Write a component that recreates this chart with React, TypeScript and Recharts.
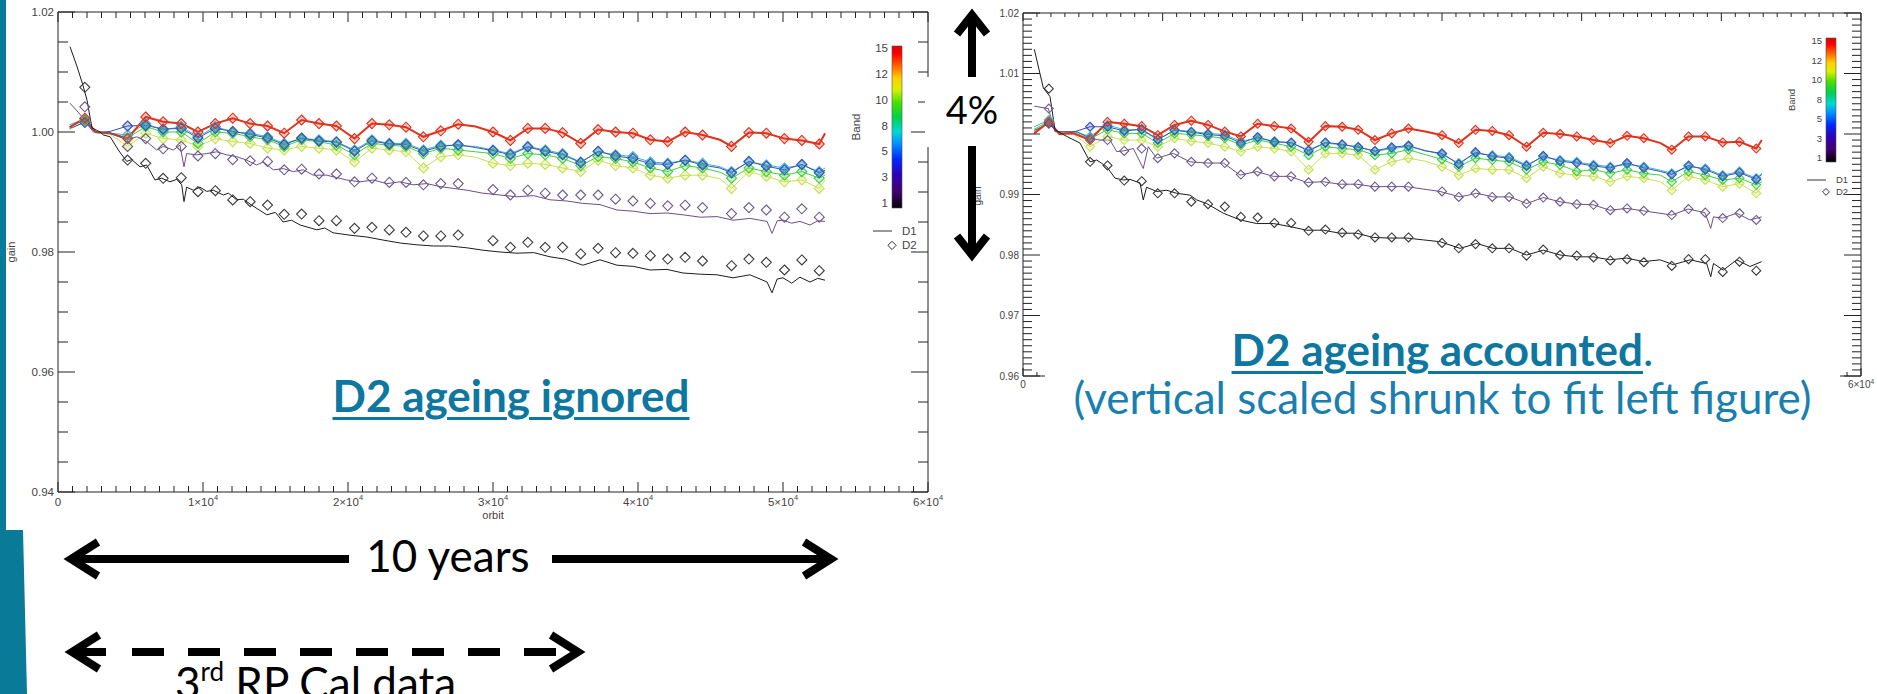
import React from "react";
import { ComposedChart, Line, Scatter, XAxis, YAxis, ReferenceLine } from "recharts";

// orbits where the band curves are sampled (D2 measurement orbits + a few line-only points)
const colorOrbits = [800, 1850, 2600, 3600, 4800, 6050, 7250, 8500, 9650, 10850, 12050, 13250, 14450, 15600, 16800, 18000, 19200, 20450, 21650, 22850, 24000, 25200, 26400, 27600, 28800, 30000, 31200, 32400, 33600, 34800, 36050, 37250, 38450, 39650, 40850, 42050, 43250, 44450, 45650, 46450, 47650, 48850, 50100, 51300, 52500, 52900];
const d2Orbits = [1850, 4800, 6050, 7250, 8500, 9650, 10850, 12050, 13250, 14450, 15600, 16800, 18000, 19200, 20450, 21650, 22850, 24000, 25200, 26400, 27600, 30000, 31200, 32400, 33600, 34800, 36050, 37250, 38450, 39650, 40850, 42050, 43250, 44450, 46450, 47650, 48850, 50100, 51300, 52500];

// ---- left panel: D2 ageing ignored ----
const leftRed = [1.0008, 1.0023, 1.0, 0.9998, 0.9989, 1.0025, 1.0017, 1.0014, 1.0, 1.0014, 1.0023, 1.0014, 1.001, 0.9998, 1.002, 1.0014, 1.001, 0.9989, 1.0014, 1.0012, 1.0008, 0.9992, 1.0002, 1.0013, 1.0009, 1.0, 0.9986, 1.0006, 1.0006, 0.9999, 0.9981, 1.0004, 1.0, 0.9998, 0.9987, 0.9984, 1.0, 0.9995, 0.9987, 0.9976, 0.9999, 0.9998, 0.9989, 0.9986, 0.998, 0.9998];
const leftBlue = [1.0006, 1.0016, 0.9999, 1.0001, 1.001, 1.0011, 1.0005, 1.0006, 0.999, 1.0006, 1.0001, 0.9996, 0.999, 0.9979, 0.999, 0.9985, 0.9983, 0.9968, 0.9985, 0.998, 0.9979, 0.9968, 0.9976, 0.9979, 0.9974, 0.9969, 0.9962, 0.9975, 0.9968, 0.9962, 0.9949, 0.9968, 0.996, 0.9956, 0.9947, 0.9946, 0.9953, 0.9945, 0.994, 0.9932, 0.9951, 0.9943, 0.9937, 0.9946, 0.9932, 0.9936];
const leftCyan = [1.0012, 1.0022, 1.0, 0.9998, 0.9995, 1.0014, 1.0003, 1.0009, 0.9992, 1.0009, 1.0, 0.9998, 0.9992, 0.9981, 0.9989, 0.9987, 0.9984, 0.997, 0.9987, 0.9981, 0.9981, 0.997, 0.9978, 0.9977, 0.9976, 0.997, 0.9964, 0.9976, 0.997, 0.9964, 0.995, 0.9967, 0.9962, 0.9959, 0.995, 0.9948, 0.9953, 0.9948, 0.9942, 0.9934, 0.995, 0.9945, 0.994, 0.9945, 0.9934, 0.994];
const leftGreen = [1.0008, 1.002, 1.0, 0.9998, 0.999, 1.0009, 1.0, 1.0, 0.9981, 1.0, 0.9998, 0.9992, 0.9987, 0.9976, 0.9987, 0.9984, 0.9978, 0.9962, 0.9981, 0.9978, 0.9976, 0.9964, 0.9973, 0.997, 0.9967, 0.9964, 0.9956, 0.9964, 0.9962, 0.9956, 0.9944, 0.9959, 0.9956, 0.995, 0.994, 0.9934, 0.9944, 0.994, 0.9933, 0.9923, 0.994, 0.9934, 0.9928, 0.9934, 0.9923, 0.9928];
const leftYellow = [1.0004, 1.0018, 0.9998, 0.9996, 0.9976, 0.9998, 0.9989, 0.9987, 0.9976, 0.9989, 0.9984, 0.9981, 0.9973, 0.997, 0.9976, 0.9973, 0.997, 0.995, 0.9973, 0.997, 0.9967, 0.994, 0.9959, 0.9962, 0.9958, 0.9948, 0.9944, 0.9948, 0.9946, 0.994, 0.9934, 0.9953, 0.9944, 0.994, 0.9928, 0.9923, 0.9928, 0.9928, 0.9922, 0.9906, 0.9934, 0.9926, 0.9917, 0.992, 0.9906, 0.992];

const leftBlackOrbits = [830, 1300, 1720, 2000, 2340, 2900, 3130, 3600, 4160, 4740, 5080, 5660, 6115, 6690, 7150, 7720, 8190, 8530, 8690, 8870, 9330, 9790, 10250, 10710, 11400, 11750, 12320, 12780, 13360, 14400, 15000, 15520, 16100, 16700, 17850, 18400, 18970, 20140, 21300, 22400, 23600, 24750, 25900, 27000, 28200, 29300, 30480, 31650, 32800, 33930, 35000, 36200, 37380, 38550, 39700, 40830, 42000, 43100, 44300, 45450, 46550, 47720, 48900, 49240, 49600, 50000, 50600, 51170, 51860, 52400, 52900];
const leftBlackD1 = [1.0142, 1.011, 1.0078, 1.0053, 1.0007, 1.0, 0.9995, 0.9992, 0.997, 0.9951, 0.9954, 0.9942, 0.9945, 0.992, 0.9923, 0.9917, 0.9921, 0.9912, 0.9884, 0.9908, 0.9903, 0.9908, 0.9901, 0.9903, 0.9895, 0.9898, 0.9887, 0.9888, 0.9878, 0.9862, 0.9866, 0.985, 0.9853, 0.9845, 0.9837, 0.984, 0.9832, 0.9828, 0.9825, 0.982, 0.9815, 0.9812, 0.981, 0.981, 0.9807, 0.9803, 0.98, 0.9798, 0.9799, 0.9792, 0.9788, 0.9778, 0.9787, 0.9778, 0.9776, 0.977, 0.9771, 0.9765, 0.9763, 0.9762, 0.9757, 0.9762, 0.975, 0.9732, 0.9755, 0.9757, 0.9748, 0.9758, 0.975, 0.9756, 0.9753];
const leftBlackD2 = [1.00745, 0.99533, 0.99478, 0.99228, 0.99239, 0.99006, 0.99022, 0.98867, 0.98839, 0.98783, 0.98628, 0.98633, 0.98522, 0.98522, 0.98394, 0.98411, 0.98367, 0.98328, 0.98267, 0.98267, 0.98283, 0.98189, 0.98078, 0.98161, 0.98078, 0.98078, 0.97967, 0.98061, 0.97989, 0.97978, 0.97939, 0.97883, 0.97911, 0.9785, 0.97772, 0.97883, 0.97828, 0.977, 0.97867, 0.97689];

const leftPurpleOrbits = [830, 1500, 2440, 3590, 4740, 5430, 6115, 6800, 7270, 7950, 8410, 8690, 8870, 9570, 10250, 10940, 11630, 12320, 13010, 13700, 14160, 14850, 15540, 16230, 16920, 17610, 18530, 19220, 19910, 20830, 21750, 22670, 23590, 24500, 25430, 26340, 27260, 28200, 29300, 30480, 31650, 32800, 33930, 35100, 36200, 37380, 38550, 39700, 40830, 42000, 43100, 44300, 45450, 46550, 47720, 48900, 49240, 49600, 50000, 50600, 51170, 51860, 52400, 52900];
const leftPurpleD1 = [1.0048, 1.003, 1.0, 0.9998, 0.9987, 0.9992, 0.9984, 0.997, 0.9976, 0.997, 0.9978, 0.9942, 0.9964, 0.9962, 0.9964, 0.9967, 0.9962, 0.9959, 0.9953, 0.9945, 0.995, 0.9937, 0.9939, 0.9934, 0.9937, 0.9928, 0.9928, 0.9924, 0.992, 0.9917, 0.992, 0.9914, 0.9917, 0.9912, 0.9914, 0.9909, 0.9906, 0.9903, 0.9898, 0.9895, 0.9892, 0.9894, 0.9887, 0.9885, 0.9881, 0.9879, 0.987, 0.9868, 0.9864, 0.9865, 0.9862, 0.9858, 0.9859, 0.9853, 0.9856, 0.9851, 0.9831, 0.9852, 0.9853, 0.9848, 0.9851, 0.9845, 0.9852, 0.9851];
const leftPurpleD2 = [1.0042, 0.9976, 0.9989, 0.9972, 0.9976, 0.996, 0.9964, 0.9954, 0.9952, 0.9951, 0.9937, 0.9938, 0.993, 0.993, 0.9917, 0.9923, 0.9916, 0.9916, 0.9912, 0.9914, 0.9914, 0.9904, 0.9895, 0.9903, 0.9898, 0.9895, 0.9895, 0.9895, 0.9888, 0.9885, 0.9881, 0.9877, 0.9878, 0.9874, 0.9864, 0.9874, 0.987, 0.9858, 0.9872, 0.9858];

// ---- right panel: D2 ageing accounted ----
const rightRed = [1.0001, 1.002, 1.0001, 1.0001, 0.999, 1.002, 1.0017, 1.0013, 0.9998, 1.0015, 1.0022, 1.0015, 1.0004, 0.9996, 1.0017, 1.0013, 1.0009, 0.9987, 1.0013, 1.0012, 1.0007, 0.999, 1.0001, 1.0009, 1.0004, 0.9998, 0.9985, 1.0007, 1.0005, 0.9998, 0.9979, 1.0002, 1.0, 0.9996, 0.999, 0.9985, 0.9997, 0.9993, 0.9985, 0.9974, 0.9996, 0.9996, 0.9986, 0.9987, 0.9976, 0.999];
const rightBlue = [1.0006, 1.0017, 0.9999, 1.0003, 1.0012, 1.0012, 1.0005, 1.0008, 0.9991, 1.0006, 1.0003, 0.9999, 0.9997, 0.9985, 0.9995, 0.9987, 0.9986, 0.9972, 0.9986, 0.9983, 0.9978, 0.9972, 0.9978, 0.9981, 0.9972, 0.9968, 0.995, 0.997, 0.9963, 0.996, 0.9947, 0.9964, 0.9955, 0.9952, 0.9947, 0.9944, 0.9952, 0.9944, 0.9938, 0.9933, 0.9948, 0.9941, 0.993, 0.9936, 0.9925, 0.9933];
const rightCyan = [1.0012, 1.0023, 1.0001, 1.0004, 0.9996, 1.0015, 1.0007, 1.0007, 0.999, 1.0007, 1.0004, 1.0001, 0.9999, 0.9988, 0.9993, 0.9988, 0.9985, 0.9974, 0.9985, 0.9982, 0.9979, 0.9971, 0.9976, 0.9979, 0.9973, 0.9966, 0.9952, 0.9968, 0.9965, 0.9962, 0.9949, 0.9962, 0.9957, 0.9954, 0.9949, 0.9946, 0.995, 0.9946, 0.994, 0.9935, 0.9946, 0.9943, 0.9932, 0.9938, 0.9927, 0.9935];
const rightGreen = [1.0008, 1.0021, 1.0, 1.0003, 0.9992, 1.0007, 1.0001, 1.0001, 0.9985, 1.0001, 0.9999, 0.9996, 0.9993, 0.9982, 0.999, 0.9985, 0.9979, 0.9965, 0.9979, 0.9976, 0.9974, 0.9965, 0.9968, 0.9974, 0.9966, 0.9958, 0.9946, 0.996, 0.9957, 0.9954, 0.9941, 0.9954, 0.9949, 0.9938, 0.9941, 0.9935, 0.9941, 0.9935, 0.9932, 0.9921, 0.9938, 0.9932, 0.9924, 0.9927, 0.9916, 0.9921];
const rightYellow = [1.0004, 1.0019, 0.9998, 1.0, 0.9979, 0.9996, 0.999, 0.999, 0.9979, 0.9993, 0.9988, 0.9985, 0.9979, 0.9971, 0.9979, 0.9976, 0.9971, 0.9941, 0.9968, 0.9968, 0.9965, 0.9941, 0.9954, 0.996, 0.9955, 0.9946, 0.9932, 0.9943, 0.9941, 0.9941, 0.9927, 0.9946, 0.9935, 0.9932, 0.993, 0.9921, 0.993, 0.9927, 0.9921, 0.9907, 0.993, 0.9924, 0.9913, 0.9918, 0.9902, 0.9913];

const rightBlackOrbits = [810, 1455, 1930, 2290, 3130, 4080, 4800, 5280, 5990, 6590, 7180, 7660, 8380, 8610, 8850, 9570, 10290, 11000, 11960, 12440, 13150, 14350, 15540, 16730, 17920, 19120, 20310, 21500, 22700, 23890, 25080, 26280, 27470, 28660, 29860, 31290, 32480, 33670, 34870, 36060, 37250, 38450, 39640, 40830, 42020, 43220, 44410, 45610, 46560, 47760, 48950, 49240, 49440, 50140, 51100, 52050, 52890];
const rightBlackD1 = [1.014, 1.0076, 1.0062, 1.0007, 0.9996, 0.9985, 0.9954, 0.9957, 0.9946, 0.9927, 0.9924, 0.9925, 0.9919, 0.9891, 0.9912, 0.9905, 0.9907, 0.9902, 0.9899, 0.9891, 0.9885, 0.9869, 0.9858, 0.9852, 0.9852, 0.9847, 0.9841, 0.9841, 0.9836, 0.9836, 0.9829, 0.9828, 0.9828, 0.9825, 0.9822, 0.9811, 0.9819, 0.9811, 0.9811, 0.98, 0.9808, 0.98, 0.9797, 0.9797, 0.9792, 0.9795, 0.9789, 0.9792, 0.9784, 0.9792, 0.9786, 0.9764, 0.9786, 0.9775, 0.9792, 0.9781, 0.9789];
const rightBlackD2 = [1.0075, 0.9954, 0.9948, 0.9923, 0.9922, 0.9902, 0.9902, 0.9888, 0.9884, 0.988, 0.9863, 0.9862, 0.9853, 0.9853, 0.984, 0.9842, 0.9837, 0.9834, 0.9829, 0.9829, 0.9829, 0.982, 0.9811, 0.9818, 0.9811, 0.9811, 0.9799, 0.9809, 0.98, 0.9799, 0.9796, 0.9791, 0.9793, 0.9788, 0.9782, 0.9793, 0.9793, 0.9772, 0.9789, 0.9774];

const rightPurpleOrbits = [810, 1815, 2290, 3840, 4800, 5510, 6230, 6710, 7180, 7900, 8610, 8970, 9570, 10760, 11960, 13150, 14350, 15540, 16730, 17920, 19120, 20310, 21500, 22700, 23890, 25080, 26280, 27470, 28660, 29860, 31290, 32480, 33670, 34870, 36060, 37250, 38450, 39640, 40830, 42020, 43220, 44410, 45610, 46440, 47630, 48830, 49240, 49440, 50090, 51100, 52050, 52890];
const rightPurpleD1 = [1.0046, 1.0042, 1.0004, 1.0004, 0.9993, 0.999, 0.999, 0.9971, 0.9972, 0.9976, 0.9943, 0.9979, 0.996, 0.9968, 0.9954, 0.9952, 0.9952, 0.9932, 0.9938, 0.993, 0.993, 0.992, 0.9921, 0.9917, 0.9917, 0.9913, 0.9913, 0.9913, 0.9909, 0.9905, 0.9896, 0.9902, 0.9896, 0.9896, 0.9885, 0.9895, 0.9888, 0.9884, 0.9883, 0.9874, 0.9877, 0.9873, 0.9869, 0.9866, 0.9876, 0.987, 0.9844, 0.9863, 0.9861, 0.9869, 0.9858, 0.9863];
const rightPurpleD2 = [1.0042, 0.9993, 0.999, 0.9972, 0.9976, 0.996, 0.9968, 0.9954, 0.9952, 0.9952, 0.9933, 0.9938, 0.993, 0.993, 0.992, 0.9921, 0.9917, 0.9917, 0.9913, 0.9913, 0.9913, 0.9905, 0.9896, 0.9902, 0.9896, 0.9896, 0.9885, 0.9895, 0.9888, 0.9884, 0.9883, 0.9874, 0.9877, 0.9873, 0.9866, 0.9876, 0.987, 0.9861, 0.9869, 0.9858];

const bandLabels = ["15", "12", "10", "8", "5", "3", "1"];
const leftXLabels = [0, 10000, 20000, 30000, 40000, 50000, 60000];
const rightXLabels = [0, 60000];

const TEAL = "#0d77a0";
const pts = (xs: number[], ys: number[]) => xs.map((orbit, i) => ({ orbit, v: ys[i] }));
const diamond = (cx: number, cy: number, r: number) =>
  `M${cx},${cy - r}L${cx + r},${cy}L${cx},${cy + r}L${cx - r},${cy}Z`;
const d2Set = new Set(d2Orbits);

type Box = { left: number; top: number; right: number; bottom: number };
type PanelProps = {
  width: number;
  height: number;
  plot: Box;
  yMin: number;
  yMax: number;
  yStep: number;
  yMajor: number;
  yLen: [number, number];
  xLen: [number, number];
  xLabels: number[];
  font: number;
  r: number;
  bands: { color: string; values: number[]; w?: number }[];
  blackLine: { x: number[]; y: number[] };
  purpleLine: { x: number[]; y: number[] };
  blackD2: number[];
  purpleD2: number[];
};

function GainPanel(p: PanelProps) {
  const { plot } = p;
  const nY = Math.round((p.yMax - p.yMin) / p.yStep);
  const yTicks = Array.from({ length: nY + 1 }, (_, i) => +(p.yMin + i * p.yStep).toFixed(4));
  const xTicks = Array.from({ length: 61 }, (_, i) => i * 1000);
  const isMajor = (v: number) => Math.abs(v / p.yMajor - Math.round(v / p.yMajor)) < 1e-6;

  const yTick = (t: any) => {
    const v = t.payload.value;
    const major = isMajor(v);
    const len = major ? p.yLen[0] : p.yLen[1];
    return (
      <g>
        <line x1={plot.left} x2={plot.left + len} y1={t.y} y2={t.y} stroke="#222" />
        <line x1={plot.right} x2={plot.right - len} y1={t.y} y2={t.y} stroke="#222" />
        {major && (
          <text x={plot.left - 4} y={t.y} dy="0.35em" textAnchor="end" fontSize={p.font} fill="#444">
            {v.toFixed(2)}
          </text>
        )}
      </g>
    );
  };

  const xTick = (t: any) => {
    const v = t.payload.value;
    const major = v % 10000 === 0;
    const len = major ? p.xLen[0] : p.xLen[1];
    const n = v / 10000;
    return (
      <g>
        <line x1={t.x} x2={t.x} y1={plot.bottom} y2={plot.bottom - len} stroke="#222" />
        <line x1={t.x} x2={t.x} y1={plot.top} y2={plot.top + len} stroke="#222" />
        {p.xLabels.includes(v) && (
          <text x={t.x} y={plot.bottom + p.font + 2} textAnchor="middle" fontSize={p.font} fill="#444">
            {n === 0 ? (
              "0"
            ) : (
              <>
                <tspan>{`${n}×10`}</tspan>
                <tspan dy={-p.font * 0.45} fontSize={p.font * 0.65}>4</tspan>
              </>
            )}
          </text>
        )}
      </g>
    );
  };

  const bandDot = (color: string) => (d: any) => {
    const key = `d${d.index}`;
    if (d.cx == null || d.cy == null || !d2Set.has(d.payload?.orbit)) return <g key={key} />;
    return (
      <path key={key} d={diamond(d.cx, d.cy, p.r)} fill={color} fillOpacity={0.25} stroke={color} strokeWidth={1.1} />
    );
  };
  const diamondShape = (color: string) => (s: any) =>
    <path d={diamond(s.cx, s.cy, p.r)} fill="none" stroke={color} strokeWidth={1.1} />;

  return (
    <ComposedChart
      width={p.width}
      height={p.height}
      margin={{ top: plot.top, right: p.width - plot.right, left: 0, bottom: 0 }}
    >
      <XAxis
        type="number"
        dataKey="orbit"
        domain={[0, 60000]}
        ticks={xTicks}
        interval={0}
        allowDataOverflow
        height={p.height - plot.bottom}
        tickLine={false}
        tickSize={0}
        tickMargin={0}
        axisLine={{ stroke: "#222" }}
        tick={xTick}
      />
      <YAxis
        type="number"
        domain={[p.yMin, p.yMax]}
        ticks={yTicks}
        interval={0}
        allowDataOverflow
        width={plot.left}
        tickLine={false}
        tickSize={0}
        tickMargin={0}
        axisLine={{ stroke: "#222" }}
        tick={yTick}
      />
      <ReferenceLine y={p.yMax} stroke="#222" />
      <ReferenceLine x={60000} stroke="#222" />
      {p.bands.map((b, i) => (
        <Line
          key={i}
          data={pts(colorOrbits, b.values)}
          dataKey="v"
          type="linear"
          stroke={b.color}
          strokeWidth={b.w ?? 1}
          dot={bandDot(b.color)}
          activeDot={false}
          isAnimationActive={false}
        />
      ))}
      <Line data={pts(p.purpleLine.x, p.purpleLine.y)} dataKey="v" type="linear" stroke="#6b4f8e" strokeWidth={1} dot={false} activeDot={false} isAnimationActive={false} />
      <Line data={pts(p.blackLine.x, p.blackLine.y)} dataKey="v" type="linear" stroke="#1c1c1c" strokeWidth={1} dot={false} activeDot={false} isAnimationActive={false} />
      <Scatter data={pts(d2Orbits, p.purpleD2)} dataKey="v" shape={diamondShape("#6c5a8c")} isAnimationActive={false} />
      <Scatter data={pts(d2Orbits, p.blackD2)} dataKey="v" shape={diamondShape("#3a3a3a")} isAnimationActive={false} />
    </ComposedChart>
  );
}

function ColorBar({ x, y, w, h, labelTop, labelBottom, font, bandX, bandY, legY }: any) {
  const step = (labelBottom - labelTop) / (bandLabels.length - 1);
  return (
    <g fontSize={font} fill="#444">
      <rect x={x} y={y} width={w} height={h} fill="url(#rainbow)" stroke="#555" strokeWidth={0.6} />
      {bandLabels.map((l, i) => (
        <text key={l} x={x - 4} y={labelTop + i * step} dy="0.35em" textAnchor="end">{l}</text>
      ))}
      <text x={bandX} y={bandY} textAnchor="middle" transform={`rotate(-90 ${bandX} ${bandY})`}>Band</text>
      <line x1={x - 19} x2={x} y1={legY} y2={legY} stroke="#333" />
      <text x={x + w} y={legY} dy="0.35em">D1</text>
      <path d={diamond(x, legY + font * 1.25, font * 0.36)} fill="none" stroke="#333" />
      <text x={x + w} y={legY + font * 1.25} dy="0.35em">D2</text>
    </g>
  );
}

export default function App() {
  const leftBands = [
    { color: "#c9e052", values: leftYellow },
    { color: "#3fcf3f", values: leftGreen },
    { color: "#39b6cf", values: leftCyan },
    { color: "#3650b8", values: leftBlue },
    { color: "#e0321c", values: leftRed, w: 2 },
  ];
  const rightBands = [
    { color: "#c9e052", values: rightYellow },
    { color: "#3fcf3f", values: rightGreen },
    { color: "#39b6cf", values: rightCyan },
    { color: "#3650b8", values: rightBlue },
    { color: "#e0321c", values: rightRed, w: 2 },
  ];
  const slide = { fontFamily: "Lato, 'Open Sans', sans-serif" };
  return (
    <div
      style={{
        position: "absolute",
        left: 0,
        top: 0,
        width: 1877,
        height: 694,
        background: "#fff",
        overflow: "hidden",
        fontFamily: "'Liberation Sans', Arial, sans-serif",
      }}
    >
      <div style={{ position: "absolute", left: 0, top: 0 }}>
        <GainPanel
          width={958}
          height={520}
          plot={{ left: 58, top: 12, right: 928, bottom: 492 }}
          yMin={0.94}
          yMax={1.02}
          yStep={0.005}
          yMajor={0.02}
          yLen={[17, 10]}
          xLen={[10, 6]}
          xLabels={leftXLabels}
          font={11.5}
          r={5}
          bands={leftBands}
          blackLine={{ x: leftBlackOrbits, y: leftBlackD1 }}
          purpleLine={{ x: leftPurpleOrbits, y: leftPurpleD1 }}
          blackD2={leftBlackD2}
          purpleD2={leftPurpleD2}
        />
      </div>
      <div style={{ position: "absolute", left: 960, top: 0 }}>
        <GainPanel
          width={917}
          height={400}
          plot={{ left: 63, top: 13, right: 901, bottom: 376 }}
          yMin={0.96}
          yMax={1.02}
          yStep={0.001}
          yMajor={0.01}
          yLen={[17, 9]}
          xLen={[8, 4]}
          xLabels={rightXLabels}
          font={10}
          r={4.5}
          bands={rightBands}
          blackLine={{ x: rightBlackOrbits, y: rightBlackD1 }}
          purpleLine={{ x: rightPurpleOrbits, y: rightPurpleD1 }}
          blackD2={rightBlackD2}
          purpleD2={rightPurpleD2}
        />
      </div>

      <svg width={1877} height={694} style={{ position: "absolute", left: 0, top: 0 }}>
        <defs>
          <linearGradient id="rainbow" x1="0" y1="1" x2="0" y2="0">
            <stop offset="0" stopColor="#000000" />
            <stop offset="0.1" stopColor="#42006e" />
            <stop offset="0.2" stopColor="#3000b4" />
            <stop offset="0.3" stopColor="#0028ff" />
            <stop offset="0.4" stopColor="#0094ff" />
            <stop offset="0.47" stopColor="#00d8d8" />
            <stop offset="0.56" stopColor="#00d050" />
            <stop offset="0.65" stopColor="#48e000" />
            <stop offset="0.73" stopColor="#d8f000" />
            <stop offset="0.8" stopColor="#ffd000" />
            <stop offset="0.88" stopColor="#ff6000" />
            <stop offset="0.95" stopColor="#ff0000" />
            <stop offset="1" stopColor="#e00000" />
          </linearGradient>
        </defs>

        {/* slide accent */}
        <rect x={0} y={0} width={6} height={694} fill="#0a7a99" />
        <polygon points="0,530 23,530 27,694 0,694" fill="#0a7a99" />

        {/* axis titles */}
        <text x={15} y={252} fontSize={11} fill="#444" textAnchor="middle" transform="rotate(-90 15 252)">gain</text>
        <text x={493} y={519} fontSize={11} fill="#444" textAnchor="middle">orbit</text>
        <text x={981} y={196} fontSize={10} fill="#444" textAnchor="middle" transform="rotate(-90 981 196)">gain</text>

        <ColorBar x={892} y={46} w={10} h={162} labelTop={48} labelBottom={203} font={11.5} bandX={860} bandY={127} legY={231} />
        <ColorBar x={1826} y={38} w={10} h={124} labelTop={41} labelBottom={158} font={9.5} bandX={1795} bandY={100} legY={180} />

        {/* 4% marker */}
        <rect x={925} y={77} width={94} height={70} fill="#fff" />
        <text x={972} y={124} fontSize={38} textAnchor="middle" fill="#000" style={slide}>4%</text>
        <g stroke="#000" strokeWidth={8} fill="none" strokeLinejoin="miter">
          <line x1={972} y1={18} x2={972} y2={77} />
          <polyline points="957,34 972,15 987,34" />
          <line x1={972} y1={146} x2={972} y2={253} />
          <polyline points="957,236 972,255 987,236" />
        </g>

        {/* 10 years */}
        <g stroke="#000" strokeWidth={8} fill="none" strokeLinejoin="miter">
          <line x1={74} y1={559} x2={349} y2={559} />
          <line x1={552} y1={559} x2={828} y2={559} />
          <polyline points="98,542 71,559 98,576" />
          <polyline points="804,542 831,559 804,576" />
        </g>
        <text x={448} y={572} fontSize={44} textAnchor="middle" fill="#000" style={slide}>10 years</text>

        {/* 3rd RP Cal data */}
        <g stroke="#000" strokeWidth={8} fill="none" strokeLinejoin="miter">
          <line x1={74} y1={652} x2={106} y2={652} />
          <line x1={132} y1={652} x2={556} y2={652} strokeDasharray="32 24" />
          <polyline points="99,635 72,652 99,669" />
          <polyline points="551,635 578,652 551,669" />
        </g>
        <text x={175} y={699} fontSize={44} fill="#000" style={slide}>
          3<tspan dy={-18} fontSize={26}>rd</tspan>
          <tspan dy={18}> RP Cal data</tspan>
        </text>
      </svg>

      <div
        style={{
          ...slide,
          position: "absolute",
          left: 300,
          top: 373,
          width: 422,
          textAlign: "center",
          fontSize: 44,
          fontWeight: 700,
          lineHeight: "44px",
          color: TEAL,
          textDecoration: "underline",
          textUnderlineOffset: 5,
          textDecorationThickness: 3,
        }}
      >
        D2 ageing ignored
      </div>

      <div
        style={{
          ...slide,
          position: "absolute",
          left: 1045,
          top: 325,
          width: 795,
          background: "#fff",
          textAlign: "center",
          fontSize: 44,
          lineHeight: "48px",
          color: TEAL,
        }}
      >
        <div>
          <span style={{ fontWeight: 700, textDecoration: "underline", textUnderlineOffset: 5, textDecorationThickness: 3 }}>
            D2 ageing accounted
          </span>
          .
        </div>
        <div style={{ color: "#1a7fae" }}>(vertical scaled shrunk to fit left figure)</div>
      </div>
    </div>
  );
}
